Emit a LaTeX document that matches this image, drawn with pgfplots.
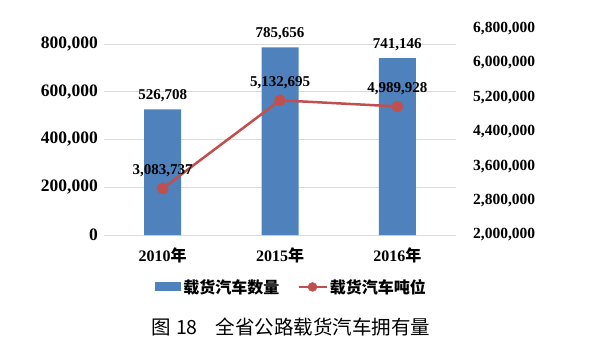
\documentclass[border=0pt]{standalone}
\usepackage{pgfplots}
\pgfplotsset{compat=1.18}
\usepackage{fontspec}
\setmainfont{Liberation Serif}
\newfontfamily\cjk{Noto Sans CJK SC}
\definecolor{barblue}{HTML}{4F81BD}
\definecolor{linered}{HTML}{C0504D}
\definecolor{gridgray}{HTML}{D9D9D9}
\begin{document}
\begin{tikzpicture}[x=1pt,y=1pt]
\useasboundingbox (0,0) rectangle (591,357);
\begin{axis}[
  at={(104pt,122pt)}, anchor=south west,
  scale only axis, width=352pt, height=191pt,
  xmin=-0.5, xmax=2.5, ymin=0, ymax=800000,
  xtick={0,1,2},
  xticklabels={2010{\cjk 年},2015{\cjk 年},2016{\cjk 年}},
  ytick={0,200000,400000,600000,800000},
  ymajorgrids, grid style={gridgray, line width=0.8pt},
  axis line style={draw=none}, major tick length=0pt,
  scaled y ticks=false,
  /pgf/number format/fixed,
  /pgf/number format/1000 sep={,},
  /pgf/number format/assume math mode=true,
  yticklabel style={font=\bfseries\fontsize{17.5}{19}\selectfont, inner sep=0pt, xshift=-6pt},
  xticklabel style={font=\bfseries\fontsize{16}{18}\selectfont, inner sep=0pt, yshift=-13pt},
  legend columns=2,
  legend style={draw=none, fill=none, at={(0.5327,-0.272)}, anchor=center,
    font=\cjk\bfseries\fontsize{16}{18}\selectfont,
    /tikz/every even column/.append style={column sep=16pt}},
  legend cell align=left,
]
\addplot[ybar, bar width=37pt, fill=barblue, draw=none,
  nodes near coords,
  nodes near coords style={font=\bfseries\fontsize{15}{17}\selectfont, text=black, anchor=south, inner sep=0pt, yshift=7pt},
  legend image code/.code={\fill[barblue] (0pt,-4.5pt) rectangle (26pt,4.5pt);}]
  coordinates {(0,526708) (1,785656) (2,741146)};
\addlegendentry{载货汽车数量}
\addlegendimage{legend image code/.code={\draw[linered, line width=2.5pt] (0pt,0pt) -- (28pt,0pt); \fill[linered] (14pt,0pt) circle (4.5pt);}}
\addlegendentry{载货汽车吨位}
\end{axis}
\begin{axis}[
  at={(104pt,122pt)}, anchor=south west,
  scale only axis, width=352pt, height=206.4pt,
  xmin=-0.5, xmax=2.5, ymin=2000000, ymax=6800000,
  axis y line*=right, axis x line=none,
  axis line style={draw=none}, major tick length=0pt,
  ytick={2000000,2800000,3600000,4400000,5200000,6000000,6800000},
  scaled y ticks=false,
  /pgf/number format/fixed,
  /pgf/number format/1000 sep={,},
  /pgf/number format/assume math mode=true,
  yticklabel style={font=\bfseries\fontsize{15.5}{18}\selectfont, inner sep=0pt, anchor=west, xshift=17pt},
]
\addplot[linered, line width=2.5pt, mark=*, mark size=4.5pt, mark options={fill=linered, draw=linered},
  nodes near coords,
  nodes near coords style={font=\bfseries\fontsize{15}{17}\selectfont, text=black, anchor=center, inner sep=0pt, yshift=18pt}]
  coordinates {(0,3083737) (1,5132695) (2,4989928)};
\end{axis}
\node[font=\cjk\fontsize{19.5}{22}\selectfont, anchor=center] at (291,30) {图\hspace{5pt}18\hspace{18pt}全省公路载货汽车拥有量};
\end{tikzpicture}
\end{document}
